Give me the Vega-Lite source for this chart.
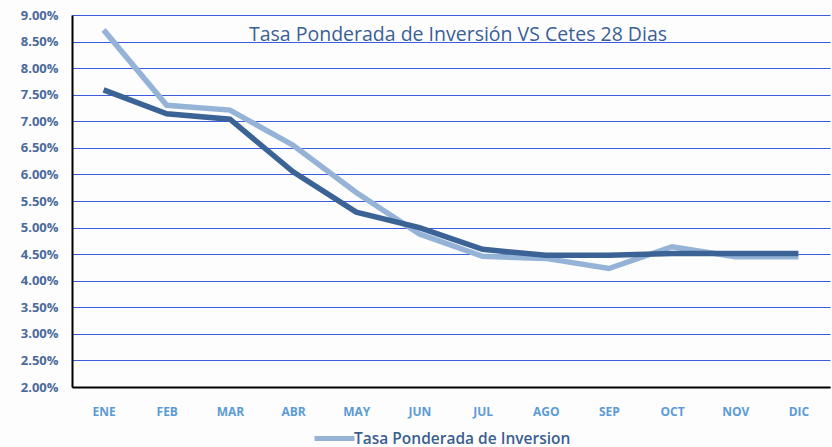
{
  "$schema": "https://vega.github.io/schema/vega-lite/v6.json",
  "width": 758,
  "height": 372,
  "autosize": {"type": "none"},
  "padding": {"left": 72, "top": 15, "right": 2, "bottom": 60},
  "background": "#fdfdfd",
  "config": {"view": {"stroke": null}, "font": "Open Sans"},
  "title": {
    "text": "Tasa Ponderada de Inversión VS Cetes 28 Dias",
    "fontSize": 19.5,
    "fontWeight": 500,
    "color": "#3a5f96",
    "font": "Open Sans",
    "anchor": "middle",
    "offset": -36,
    "dx": 7
  },
  "data": {
    "values": [
      {"mes": "ENE", "serie": "Tasa Ponderada de Inversion", "tasa": 8.72},
      {"mes": "FEB", "serie": "Tasa Ponderada de Inversion", "tasa": 7.3},
      {"mes": "MAR", "serie": "Tasa Ponderada de Inversion", "tasa": 7.21},
      {"mes": "ABR", "serie": "Tasa Ponderada de Inversion", "tasa": 6.55},
      {"mes": "MAY", "serie": "Tasa Ponderada de Inversion", "tasa": 5.66},
      {"mes": "JUN", "serie": "Tasa Ponderada de Inversion", "tasa": 4.88},
      {"mes": "JUL", "serie": "Tasa Ponderada de Inversion", "tasa": 4.46},
      {"mes": "AGO", "serie": "Tasa Ponderada de Inversion", "tasa": 4.42},
      {"mes": "SEP", "serie": "Tasa Ponderada de Inversion", "tasa": 4.23},
      {"mes": "OCT", "serie": "Tasa Ponderada de Inversion", "tasa": 4.64},
      {"mes": "NOV", "serie": "Tasa Ponderada de Inversion", "tasa": 4.45},
      {"mes": "DIC", "serie": "Tasa Ponderada de Inversion", "tasa": 4.45},
      {"mes": "ENE", "serie": "Cetes 28 Dias", "tasa": 7.59},
      {"mes": "FEB", "serie": "Cetes 28 Dias", "tasa": 7.14},
      {"mes": "MAR", "serie": "Cetes 28 Dias", "tasa": 7.04},
      {"mes": "ABR", "serie": "Cetes 28 Dias", "tasa": 6.05},
      {"mes": "MAY", "serie": "Cetes 28 Dias", "tasa": 5.29},
      {"mes": "JUN", "serie": "Cetes 28 Dias", "tasa": 5.0},
      {"mes": "JUL", "serie": "Cetes 28 Dias", "tasa": 4.59},
      {"mes": "AGO", "serie": "Cetes 28 Dias", "tasa": 4.48},
      {"mes": "SEP", "serie": "Cetes 28 Dias", "tasa": 4.48},
      {"mes": "OCT", "serie": "Cetes 28 Dias", "tasa": 4.51},
      {"mes": "NOV", "serie": "Cetes 28 Dias", "tasa": 4.51},
      {"mes": "DIC", "serie": "Cetes 28 Dias", "tasa": 4.51}
    ]
  },
  "mark": {"type": "line", "strokeWidth": 5.5, "strokeCap": "butt", "strokeJoin": "miter"},
  "encoding": {
    "x": {
      "field": "mes",
      "type": "ordinal",
      "sort": ["ENE", "FEB", "MAR", "ABR", "MAY", "JUN", "JUL", "AGO", "SEP", "OCT", "NOV", "DIC"],
      "scale": {"type": "point", "padding": 0.5},
      "axis": {
        "title": null,
        "labelAngle": 0,
        "ticks": false,
        "domainColor": "#000000",
        "domainWidth": 2,
        "labelColor": "#5b9bd5",
        "labelFont": "Open Sans",
        "labelFontSize": 12,
        "labelFontWeight": "bold",
        "labelPadding": 19,
        "grid": false
      }
    },
    "y": {
      "field": "tasa",
      "type": "quantitative",
      "scale": {"domain": [2, 9], "nice": false, "zero": false},
      "axis": {
        "title": null,
        "values": [2, 2.5, 3, 3.5, 4, 4.5, 5, 5.5, 6, 6.5, 7, 7.5, 8, 8.5, 9],
        "labelExpr": "format(datum.value, '.2f') + '%'",
        "ticks": false,
        "domainColor": "#000000",
        "domainWidth": 2,
        "grid": true,
        "gridColor": "#3a5ce0",
        "gridWidth": 1,
        "labelColor": "#4a6a9c",
        "labelFont": "Open Sans",
        "labelFontSize": 13,
        "labelFontWeight": "bold",
        "labelPadding": 14
      }
    },
    "color": {
      "field": "serie",
      "type": "nominal",
      "sort": ["Tasa Ponderada de Inversion", "Cetes 28 Dias"],
      "scale": {"domain": ["Tasa Ponderada de Inversion", "Cetes 28 Dias"], "range": ["#95b3d7", "#3b6396"]},
      "legend": {
        "title": null,
        "orient": "none",
        "legendX": 240,
        "legendY": 401,
        "direction": "horizontal",
        "values": ["Tasa Ponderada de Inversion"],
        "symbolType": "stroke",
        "symbolSize": 1600,
        "symbolStrokeWidth": 5,
        "labelOffset": -3,
        "labelLimit": 400,
        "labelColor": "#3a5f8f",
        "labelFont": "Open Sans",
        "labelFontSize": 15.5,
        "labelFontWeight": 600
      }
    },
    "order": {"field": "serie", "sort": "descending"}
  }
}
